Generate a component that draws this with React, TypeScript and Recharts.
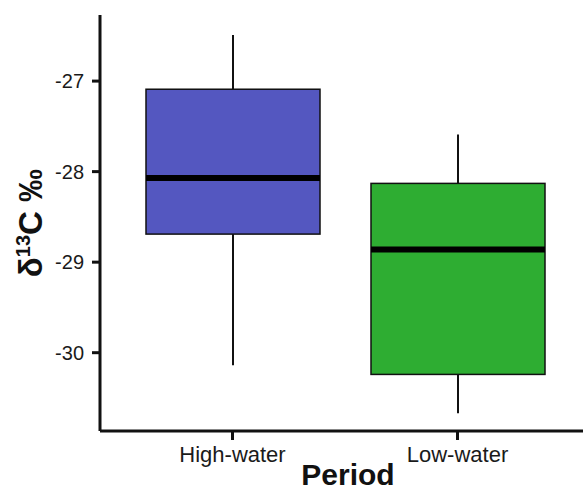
import React from "react";
import { ComposedChart, Bar, XAxis, YAxis } from "recharts";

// box plot summary per period (‰)
const periods = ["High-water", "Low-water"];
const whiskerLow = [-30.14, -30.67];
const q1 = [-28.69, -30.24];
const medians = [-28.07, -28.86];
const q3 = [-27.09, -28.13];
const whiskerHigh = [-26.49, -27.59];
const boxColors = ["#5457C0", "#2EAD32"];
const yTicks = [-30, -29, -28, -27];

const FONT = "Arial, 'Liberation Sans', Helvetica, sans-serif";
const INK = "#111111";

const data = periods.map((period, i) => ({
  period,
  range: [whiskerLow[i], whiskerHigh[i]],
  q1: q1[i],
  median: medians[i],
  q3: q3[i],
  fill: boxColors[i],
}));

const BoxShape = (props: any) => {
  const { x, y, width, height, payload } = props;
  const top = Math.min(y, y + height);
  const h = Math.abs(height);
  const [lo, hi] = payload.range;
  const toY = (v: number) => top + (h * (hi - v)) / (hi - lo);
  const cx = x + width / 2;
  const yQ3 = toY(payload.q3);
  const yQ1 = toY(payload.q1);
  const yMed = toY(payload.median);
  return (
    <g>
      <line x1={cx} x2={cx} y1={top} y2={top + h} stroke={INK} strokeWidth={2} />
      <rect
        x={x}
        y={yQ3}
        width={width}
        height={yQ1 - yQ3}
        fill={payload.fill}
        stroke={INK}
        strokeWidth={1.5}
      />
      <line x1={x} x2={x + width} y1={yMed} y2={yMed} stroke="#000" strokeWidth={6} />
    </g>
  );
};

const YLabel = () => (
  <text
    x={42}
    y={223}
    transform="rotate(-90, 42, 223)"
    textAnchor="middle"
    fontSize={33}
    fontWeight={700}
    fill={INK}
  >
    δ
    <tspan dy={-12} fontSize={20}>
      13
    </tspan>
    <tspan dy={12}>C ‰</tspan>
  </text>
);

const XLabel = () => (
  <text x={348} y={485} textAnchor="middle" fontSize={30} fontWeight={700} fill={INK}>
    Period
  </text>
);

export default function App() {
  return (
    <div style={{ position: "absolute", left: 0, top: 0, background: "#fff" }}>
      <ComposedChart
        width={583}
        height={490}
        data={data}
        margin={{ top: 15, right: 0, bottom: 0, left: 40 }}
        style={{ fontFamily: FONT }}
      >
        <XAxis
          dataKey="period"
          height={59}
          padding={{ left: 20, right: 13 }}
          axisLine={{ stroke: INK, strokeWidth: 3 }}
          tickLine={{ stroke: INK, strokeWidth: 3 }}
          tickSize={9}
          tickMargin={6}
          tick={{ fill: "#1a1a1a", fontSize: 22 }}
          label={{ content: <XLabel /> }}
        />
        <YAxis
          width={60}
          domain={[-30.865, -26.27]}
          ticks={yTicks}
          allowDataOverflow
          axisLine={{ stroke: INK, strokeWidth: 3 }}
          tickLine={{ stroke: INK, strokeWidth: 3 }}
          tickSize={8}
          tickMargin={8}
          tick={{ fill: "#1a1a1a", fontSize: 20 }}
          label={{ content: <YLabel /> }}
        />
        <Bar dataKey="range" barSize={174} shape={<BoxShape />} isAnimationActive={false} />
      </ComposedChart>
    </div>
  );
}
